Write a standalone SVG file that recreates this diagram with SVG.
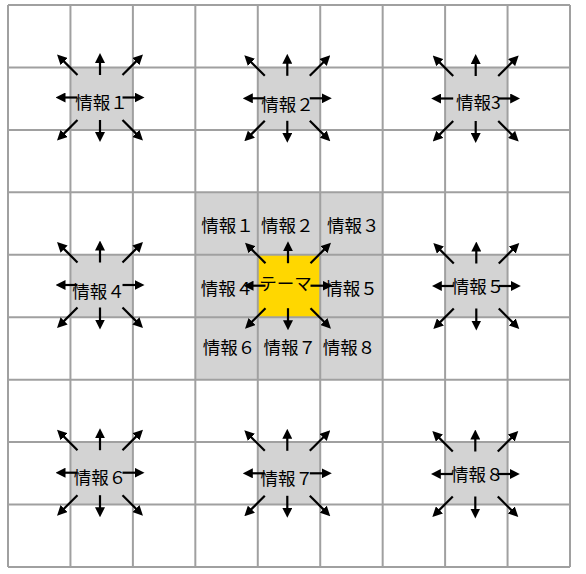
<svg xmlns="http://www.w3.org/2000/svg" width="586" height="574" viewBox="0 0 586 574">
<style>
.cell{fill:#D3D3D3;stroke:none}
.theme{fill:#FFD700;stroke:none}
.grid line{stroke:#A0A0A0;stroke-width:2}
.lbl{font-family:"Noto Sans CJK JP","Noto Sans",sans-serif;font-size:17.5px;fill:#000;text-anchor:middle;dominant-baseline:central}
.conn line{stroke:#000;stroke-width:2.2;marker-end:url(#ah)}
</style>
<defs>
<marker id="ah" viewBox="0 0 10 10" refX="1" refY="5" markerWidth="10" markerHeight="10" markerUnits="userSpaceOnUse" orient="auto">
<path d="M0,0 L10,5 L0,10 z" fill="#000"/>
</marker>
</defs>
<rect x="0" y="0" width="586" height="574" fill="#fff"/>

<g id="nodes">
<g id="outer-1"><rect class="cell" x="70.44" y="67.44" width="62.45" height="62.45"/><text class="lbl" x="101.5" y="101.5">情報１</text></g>
<g id="outer-2"><rect class="cell" x="257.78" y="67.44" width="62.44" height="62.45"/><text class="lbl" x="287.5" y="103">情報２</text></g>
<g id="outer-3"><rect class="cell" x="445.11" y="67.44" width="62.45" height="62.45"/><text class="lbl" x="478.3" y="101.7">情報3</text></g>
<g id="outer-4"><rect class="cell" x="70.44" y="254.78" width="62.45" height="62.44"/><text class="lbl" x="98.5" y="290.5">情報４</text></g>
<g id="outer-5"><rect class="cell" x="445.11" y="254.78" width="62.45" height="62.44"/><text class="lbl" x="478" y="285.5">情報５</text></g>
<g id="outer-6"><rect class="cell" x="70.44" y="442.11" width="62.45" height="62.45"/><text class="lbl" x="100" y="476">情報６</text></g>
<g id="outer-7"><rect class="cell" x="257.78" y="442.11" width="62.44" height="62.45"/><text class="lbl" x="286.7" y="477.5">情報７</text></g>
<g id="outer-8"><rect class="cell" x="445.11" y="442.11" width="62.45" height="62.45"/><text class="lbl" x="477.3" y="473">情報８</text></g>

<g id="center-1"><rect class="cell" x="195.33" y="192.33" width="62.45" height="62.45"/><text class="lbl" x="227.5" y="224.5">情報１</text></g>
<g id="center-2"><rect class="cell" x="257.78" y="192.33" width="62.44" height="62.45"/><text class="lbl" x="287.2" y="224">情報２</text></g>
<g id="center-3"><rect class="cell" x="320.22" y="192.33" width="62.45" height="62.45"/><text class="lbl" x="353.3" y="224">情報３</text></g>
<g id="center-4"><rect class="cell" x="195.33" y="254.78" width="62.45" height="62.44"/><text class="lbl" x="227" y="287.5">情報４</text></g>
<g id="theme"><rect class="theme" x="257.78" y="254.78" width="62.44" height="62.44"/><text class="lbl" x="285.5" y="282.5">テーマ</text></g>
<g id="center-5"><rect class="cell" x="320.22" y="254.78" width="62.45" height="62.44"/><text class="lbl" x="351.5" y="287.5">情報５</text></g>
<g id="center-6"><rect class="cell" x="195.33" y="317.22" width="62.45" height="62.45"/><text class="lbl" x="229" y="346">情報６</text></g>
<g id="center-7"><rect class="cell" x="257.78" y="317.22" width="62.44" height="62.45"/><text class="lbl" x="289.7" y="346">情報７</text></g>
<g id="center-8"><rect class="cell" x="320.22" y="317.22" width="62.45" height="62.45"/><text class="lbl" x="349" y="346">情報８</text></g>
</g>

<g class="grid" id="grid">
<line x1="8" y1="5" x2="8" y2="567"/>
<line x1="70.44" y1="5" x2="70.44" y2="567"/>
<line x1="132.89" y1="5" x2="132.89" y2="567"/>
<line x1="195.33" y1="5" x2="195.33" y2="567"/>
<line x1="257.78" y1="5" x2="257.78" y2="567"/>
<line x1="320.22" y1="5" x2="320.22" y2="567"/>
<line x1="382.67" y1="5" x2="382.67" y2="567"/>
<line x1="445.11" y1="5" x2="445.11" y2="567"/>
<line x1="507.56" y1="5" x2="507.56" y2="567"/>
<line x1="570" y1="5" x2="570" y2="567"/>
<line x1="8" y1="5" x2="570" y2="5"/>
<line x1="8" y1="67.44" x2="570" y2="67.44"/>
<line x1="8" y1="129.89" x2="570" y2="129.89"/>
<line x1="8" y1="192.33" x2="570" y2="192.33"/>
<line x1="8" y1="254.78" x2="570" y2="254.78"/>
<line x1="8" y1="317.22" x2="570" y2="317.22"/>
<line x1="8" y1="379.67" x2="570" y2="379.67"/>
<line x1="8" y1="442.11" x2="570" y2="442.11"/>
<line x1="8" y1="504.56" x2="570" y2="504.56"/>
<line x1="8" y1="567" x2="570" y2="567"/>
</g>

<g class="conn" id="connectors">
<g transform="translate(100,97.5)"><line x1="0" y1="-22.5" x2="0" y2="-35.5"/><line x1="0" y1="22.5" x2="0" y2="35.5"/><line x1="22.5" y1="0" x2="35.5" y2="0"/><line x1="-22.5" y1="0" x2="-35.5" y2="0"/><line x1="22.5" y1="-22.5" x2="36.6" y2="-36.6"/><line x1="-22.5" y1="-22.5" x2="-36.6" y2="-36.6"/><line x1="22.5" y1="22.5" x2="36.6" y2="36.6"/><line x1="-22.5" y1="22.5" x2="-36.6" y2="36.6"/></g>
<g transform="translate(287.3,98.3)"><line x1="0" y1="-22.5" x2="0" y2="-35.5"/><line x1="0" y1="22.5" x2="0" y2="35.5"/><line x1="22.5" y1="0" x2="35.5" y2="0"/><line x1="-22.5" y1="0" x2="-35.5" y2="0"/><line x1="22.5" y1="-22.5" x2="36.6" y2="-36.6"/><line x1="-22.5" y1="-22.5" x2="-36.6" y2="-36.6"/><line x1="22.5" y1="22.5" x2="36.6" y2="36.6"/><line x1="-22.5" y1="22.5" x2="-36.6" y2="36.6"/></g>
<g transform="translate(475.7,98.5)"><line x1="0" y1="-22.5" x2="0" y2="-35.5"/><line x1="0" y1="22.5" x2="0" y2="35.5"/><line x1="22.5" y1="0" x2="35.5" y2="0"/><line x1="-22.5" y1="0" x2="-35.5" y2="0"/><line x1="22.5" y1="-22.5" x2="36.6" y2="-36.6"/><line x1="-22.5" y1="-22.5" x2="-36.6" y2="-36.6"/><line x1="22.5" y1="22.5" x2="36.6" y2="36.6"/><line x1="-22.5" y1="22.5" x2="-36.6" y2="36.6"/></g>
<g transform="translate(100,285)"><line x1="0" y1="-22.5" x2="0" y2="-35.5"/><line x1="0" y1="22.5" x2="0" y2="35.5"/><line x1="22.5" y1="0" x2="35.5" y2="0"/><line x1="-22.5" y1="0" x2="-35.5" y2="0"/><line x1="22.5" y1="-22.5" x2="36.6" y2="-36.6"/><line x1="-22.5" y1="-22.5" x2="-36.6" y2="-36.6"/><line x1="22.5" y1="22.5" x2="36.6" y2="36.6"/><line x1="-22.5" y1="22.5" x2="-36.6" y2="36.6"/></g>
<g transform="translate(288,285.7)"><line x1="0" y1="-22.5" x2="0" y2="-35.5"/><line x1="0" y1="22.5" x2="0" y2="35.5"/><line x1="22.5" y1="0" x2="35.5" y2="0"/><line x1="-22.5" y1="0" x2="-35.5" y2="0"/><line x1="22.5" y1="-22.5" x2="36.6" y2="-36.6"/><line x1="-22.5" y1="-22.5" x2="-36.6" y2="-36.6"/><line x1="22.5" y1="22.5" x2="36.6" y2="36.6"/><line x1="-22.5" y1="22.5" x2="-36.6" y2="36.6"/></g>
<g transform="translate(476.3,286)"><line x1="0" y1="-22.5" x2="0" y2="-35.5"/><line x1="0" y1="22.5" x2="0" y2="35.5"/><line x1="22.5" y1="0" x2="35.5" y2="0"/><line x1="-22.5" y1="0" x2="-35.5" y2="0"/><line x1="22.5" y1="-22.5" x2="36.6" y2="-36.6"/><line x1="-22.5" y1="-22.5" x2="-36.6" y2="-36.6"/><line x1="22.5" y1="22.5" x2="36.6" y2="36.6"/><line x1="-22.5" y1="22.5" x2="-36.6" y2="36.6"/></g>
<g transform="translate(100,472.7)"><line x1="0" y1="-22.5" x2="0" y2="-35.5"/><line x1="0" y1="22.5" x2="0" y2="35.5"/><line x1="22.5" y1="0" x2="35.5" y2="0"/><line x1="-22.5" y1="0" x2="-35.5" y2="0"/><line x1="22.5" y1="-22.5" x2="36.6" y2="-36.6"/><line x1="-22.5" y1="-22.5" x2="-36.6" y2="-36.6"/><line x1="22.5" y1="22.5" x2="36.6" y2="36.6"/><line x1="-22.5" y1="22.5" x2="-36.6" y2="36.6"/></g>
<g transform="translate(287.3,473.3)"><line x1="0" y1="-22.5" x2="0" y2="-35.5"/><line x1="0" y1="22.5" x2="0" y2="35.5"/><line x1="22.5" y1="0" x2="35.5" y2="0"/><line x1="-22.5" y1="0" x2="-35.5" y2="0"/><line x1="22.5" y1="-22.5" x2="36.6" y2="-36.6"/><line x1="-22.5" y1="-22.5" x2="-36.6" y2="-36.6"/><line x1="22.5" y1="22.5" x2="36.6" y2="36.6"/><line x1="-22.5" y1="22.5" x2="-36.6" y2="36.6"/></g>
<g transform="translate(475.3,474)"><line x1="0" y1="-22.5" x2="0" y2="-35.5"/><line x1="0" y1="22.5" x2="0" y2="35.5"/><line x1="22.5" y1="0" x2="35.5" y2="0"/><line x1="-22.5" y1="0" x2="-35.5" y2="0"/><line x1="22.5" y1="-22.5" x2="36.6" y2="-36.6"/><line x1="-22.5" y1="-22.5" x2="-36.6" y2="-36.6"/><line x1="22.5" y1="22.5" x2="36.6" y2="36.6"/><line x1="-22.5" y1="22.5" x2="-36.6" y2="36.6"/></g>
</g>
</svg>
